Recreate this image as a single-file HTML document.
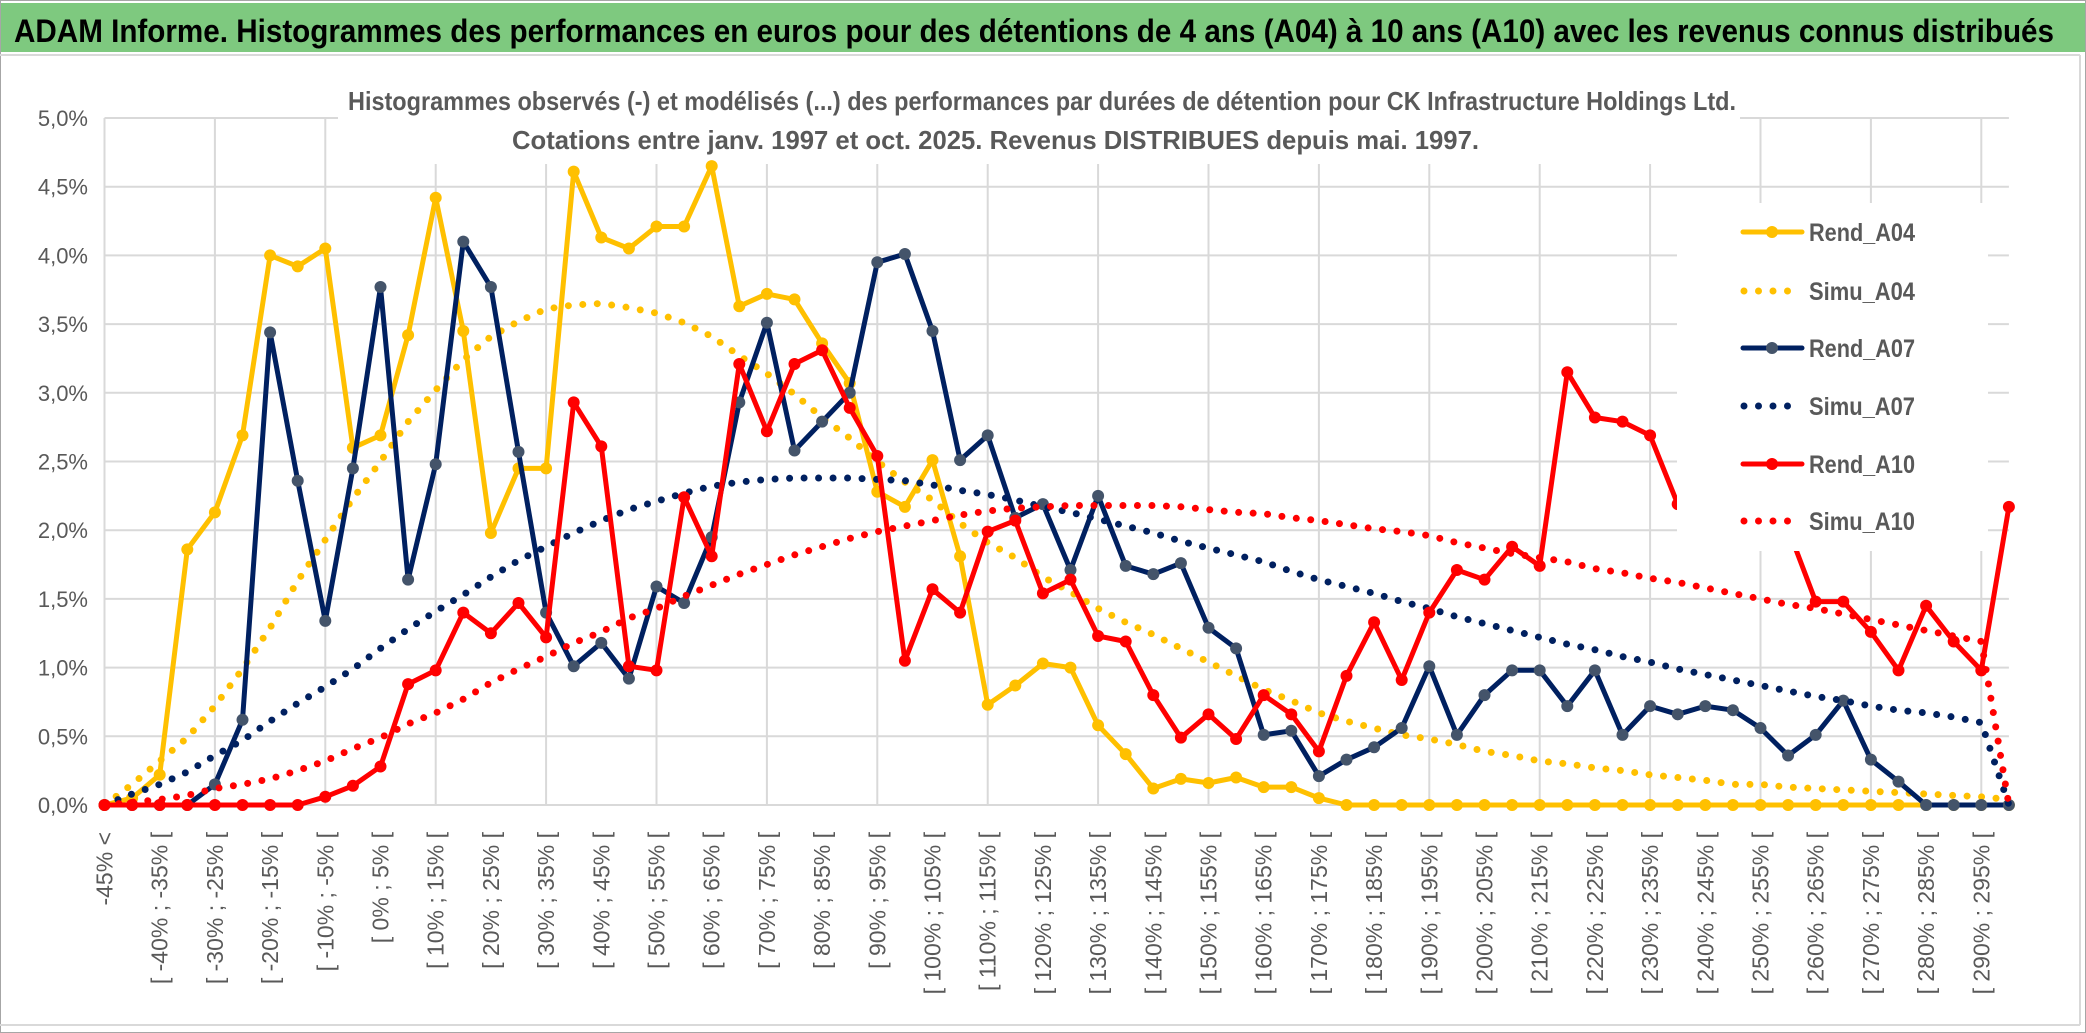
<!DOCTYPE html>
<html><head><meta charset="utf-8"><style>
html,body{margin:0;padding:0;background:#fff;}
svg{display:block;font-family:"Liberation Sans",sans-serif;}
</style></head><body>
<svg id="chart" width="2086" height="1033" viewBox="0 0 2086 1033" xmlns="http://www.w3.org/2000/svg">
<rect x="0" y="0" width="2086" height="1033" fill="#fff"/>
<rect x="0.5" y="0.5" width="2085" height="1032" fill="none" stroke="#a6a6a6" stroke-width="1"/>
<rect x="1" y="3" width="2084" height="49" fill="#7ec97f"/>
<text x="14" y="42" font-size="32" font-weight="bold" fill="#000" textLength="2040" lengthAdjust="spacingAndGlyphs">ADAM Informe. Histogrammes des performances en euros pour des détentions de 4 ans (A04) à 10 ans (A10) avec les revenus connus distribués</text>
<line x1="0" y1="55" x2="2080" y2="55" stroke="#d9d9d9" stroke-width="2"/>
<line x1="2080" y1="55" x2="2080" y2="1025" stroke="#d9d9d9" stroke-width="2"/>
<line x1="0" y1="1025" x2="2080" y2="1025" stroke="#d9d9d9" stroke-width="2"/>
<g id="grid"></g>
<rect x="338" y="80" width="1402" height="84" fill="#fff"/>
<text x="348" y="110" font-size="26" font-weight="bold" fill="#595959" textLength="1388" lengthAdjust="spacingAndGlyphs">Histogrammes observés (-) et modélisés (...) des performances par durées de détention pour CK Infrastructure Holdings Ltd.</text>
<text x="512" y="149" font-size="26" font-weight="bold" fill="#595959" textLength="967" lengthAdjust="spacingAndGlyphs">Cotations entre janv. 1997 et oct. 2025. Revenus DISTRIBUES depuis mai. 1997.</text>
<g id="yaxis"></g>
<g id="xaxis"></g>
<g id="series"></g>
<g id="legend"></g>
</svg>
<script>
const categories = ["-45% <","[ -45% ; -40% [","[ -40% ; -35% [","[ -35% ; -30% [","[ -30% ; -25% [","[ -25% ; -20% [","[ -20% ; -15% [","[ -15% ; -10% [","[ -10% ; -5% [","[ -5% ; 0% [","[ 0% ; 5% [","[ 5% ; 10% [","[ 10% ; 15% [","[ 15% ; 20% [","[ 20% ; 25% [","[ 25% ; 30% [","[ 30% ; 35% [","[ 35% ; 40% [","[ 40% ; 45% [","[ 45% ; 50% [","[ 50% ; 55% [","[ 55% ; 60% [","[ 60% ; 65% [","[ 65% ; 70% [","[ 70% ; 75% [","[ 75% ; 80% [","[ 80% ; 85% [","[ 85% ; 90% [","[ 90% ; 95% [","[ 95% ; 100% [","[ 100% ; 105% [","[ 105% ; 110% [","[ 110% ; 115% [","[ 115% ; 120% [","[ 120% ; 125% [","[ 125% ; 130% [","[ 130% ; 135% [","[ 135% ; 140% [","[ 140% ; 145% [","[ 145% ; 150% [","[ 150% ; 155% [","[ 155% ; 160% [","[ 160% ; 165% [","[ 165% ; 170% [","[ 170% ; 175% [","[ 175% ; 180% [","[ 180% ; 185% [","[ 185% ; 190% [","[ 190% ; 195% [","[ 195% ; 200% [","[ 200% ; 205% [","[ 205% ; 210% [","[ 210% ; 215% [","[ 215% ; 220% [","[ 220% ; 225% [","[ 225% ; 230% [","[ 230% ; 235% [","[ 235% ; 240% [","[ 240% ; 245% [","[ 245% ; 250% [","[ 250% ; 255% [","[ 255% ; 260% [","[ 260% ; 265% [","[ 265% ; 270% [","[ 270% ; 275% [","[ 275% ; 280% [","[ 280% ; 285% [","[ 285% ; 290% [","[ 290% ; 295% [","[ 295% ; 300% ["];
const yTicks = [0,0.5,1,1.5,2,2.5,3,3.5,4,4.5,5];
const yTickLabels = ["0,0%","0,5%","1,0%","1,5%","2,0%","2,5%","3,0%","3,5%","4,0%","4,5%","5,0%"];
const rendA04 = [0,0.05,0.22,1.86,2.13,2.69,4.0,3.92,4.05,2.6,2.69,3.42,4.42,3.45,1.98,2.45,2.45,4.61,4.13,4.05,4.21,4.21,4.65,3.63,3.72,3.68,3.36,3.07,2.28,2.17,2.51,1.81,0.73,0.87,1.03,1.0,0.58,0.37,0.12,0.19,0.16,0.2,0.13,0.13,0.05,0,0,0,0,0,0,0,0,0,0,0,0,0,0,0,0,0,0,0,0,0,0,0,0,0];
const simuA04 = [0,0.15,0.32,0.49,0.72,0.99,1.29,1.63,1.93,2.23,2.5,2.79,3.02,3.24,3.41,3.52,3.61,3.64,3.65,3.62,3.58,3.51,3.41,3.27,3.14,2.99,2.82,2.67,2.5,2.35,2.22,2.05,1.91,1.8,1.66,1.55,1.43,1.33,1.24,1.14,1.04,0.94,0.84,0.76,0.67,0.61,0.56,0.51,0.48,0.44,0.39,0.36,0.32,0.3,0.27,0.25,0.22,0.2,0.18,0.15,0.15,0.13,0.12,0.11,0.1,0.09,0.08,0.07,0.06,0.04];
const rendA07 = [0,0,0,0,0.15,0.62,3.44,2.36,1.34,2.45,3.77,1.64,2.48,4.1,3.77,2.57,1.4,1.01,1.18,0.92,1.59,1.47,1.95,2.93,3.51,2.58,2.79,3.0,3.95,4.01,3.45,2.51,2.69,2.09,2.19,1.71,2.25,1.74,1.68,1.76,1.29,1.14,0.51,0.54,0.21,0.33,0.42,0.56,1.01,0.51,0.8,0.98,0.98,0.72,0.98,0.51,0.72,0.66,0.72,0.69,0.56,0.36,0.51,0.76,0.33,0.17,0,0,0,0];
const simuA07 = [0,0.08,0.15,0.24,0.36,0.47,0.61,0.74,0.86,0.99,1.14,1.28,1.41,1.53,1.66,1.78,1.88,1.98,2.07,2.15,2.21,2.27,2.32,2.35,2.37,2.38,2.38,2.38,2.37,2.36,2.33,2.29,2.26,2.22,2.17,2.13,2.08,2.03,1.98,1.92,1.87,1.82,1.77,1.70,1.64,1.59,1.54,1.48,1.43,1.37,1.32,1.27,1.22,1.17,1.13,1.08,1.04,0.99,0.95,0.91,0.87,0.83,0.79,0.76,0.72,0.69,0.67,0.64,0.6,0];
const rendA10 = [0,0,0,0,0,0,0,0,0.06,0.14,0.28,0.88,0.98,1.4,1.25,1.47,1.22,2.93,2.61,1.01,0.98,2.24,1.81,3.21,2.72,3.21,3.31,2.89,2.54,1.05,1.57,1.40,1.99,2.07,1.54,1.64,1.23,1.19,0.8,0.49,0.66,0.48,0.8,0.66,0.39,0.94,1.33,0.91,1.4,1.71,1.64,1.88,1.74,3.15,2.82,2.79,2.69,2.19,2.1,1.95,2.05,2.01,1.48,1.48,1.26,0.98,1.45,1.19,0.98,2.17];
const simuA10 = [0,0.02,0.04,0.07,0.12,0.15,0.19,0.25,0.32,0.41,0.49,0.59,0.67,0.77,0.89,0.99,1.08,1.18,1.26,1.36,1.43,1.52,1.6,1.68,1.75,1.82,1.88,1.94,1.99,2.03,2.07,2.11,2.14,2.16,2.17,2.18,2.18,2.18,2.18,2.17,2.15,2.13,2.12,2.09,2.07,2.04,2.01,1.99,1.96,1.91,1.87,1.83,1.8,1.77,1.72,1.69,1.65,1.62,1.58,1.54,1.5,1.46,1.43,1.39,1.35,1.31,1.27,1.23,1.19,0];
const seriesNames = ["Rend_A04","Simu_A04","Rend_A07","Simu_A07","Rend_A10","Simu_A10"];

const NS="http://www.w3.org/2000/svg";
const X0=104.5, XSTEP=27.6, Y0=805, YPX=137.4;
function xs(i){return X0+XSTEP*i;}
function ys(v){return Y0-v*YPX;}
function mk(tag,parent,attrs){const e=document.createElementNS(NS,tag);for(const k in attrs)e.setAttribute(k,attrs[k]);parent.appendChild(e);return e;}
const grid=document.getElementById('grid'), yaxis=document.getElementById('yaxis'), xaxis=document.getElementById('xaxis'), series=document.getElementById('series'), legend=document.getElementById('legend');
const xEnd=xs(categories.length-1);
yTicks.forEach((t,k)=>{
  const l=mk('line',grid,{x1:xs(0),x2:xEnd,y1:ys(t),y2:ys(t),stroke:'#d9d9d9','stroke-width':2});
  
  
  const tx=mk('text',yaxis,{x:88,y:ys(t)+8,'font-size':22,fill:'#595959','text-anchor':'end'});
  tx.textContent=yTickLabels[k];
  
  
});
for(let i=0;i<categories.length;i+=4){
  const l=mk('line',grid,{x1:xs(i),x2:xs(i),y1:ys(5),y2:Y0,stroke:'#d9d9d9','stroke-width':2});
  
  
}
categories.forEach((c,i)=>{
  if(i%2!==0)return;
  const x=xs(i)+8, y=832;
  const tx=mk('text',xaxis,{x:x,y:y,'font-size':23,fill:'#595959','text-anchor':'end',transform:'rotate(-90 '+x+' '+y+')'});
  tx.textContent=c;
  
  
});
const defs=[
 {data:rendA04,color:'#ffc000',marker:'#ffc000',dotted:false},
 {data:simuA04,color:'#ffc000',dotted:true},
 {data:rendA07,color:'#002060',marker:'#44546a',dotted:false},
 {data:simuA07,color:'#002060',dotted:true},
 {data:rendA10,color:'#ff0000',marker:'#ff0000',dotted:false},
 {data:simuA10,color:'#ff0000',dotted:true}
];
defs.forEach((d,s)=>{
  const g=mk('g',series,{});
  
  
  const pts=d.data.map((v,i)=>xs(i).toFixed(1)+','+ys(v).toFixed(1)).join(' ');
  const attrs={points:pts,fill:'none',stroke:d.color,'stroke-width':d.dotted?7:5,'stroke-linejoin':'round','stroke-linecap':'round'};
  if(d.dotted)attrs['stroke-dasharray']='0 14.5';
  const pl=mk('polyline',g,attrs);
  
  
  if(!d.dotted){
    d.data.forEach((v,i)=>{
      const c=mk('circle',g,{cx:xs(i),cy:ys(v),r:6,fill:d.marker});
      
      
    });
  }
});
const lb=mk('rect',legend,{x:1677,y:203,width:311,height:348,fill:'#fff'});


const legY=[232,291,348,406,464,521];
defs.forEach((d,s)=>{
  const g=mk('g',legend,{});
  
  
  const y=legY[s];
  if(d.dotted){
    mk('line',g,{x1:1744,x2:1802,y1:y,y2:y,stroke:d.color,'stroke-width':7,'stroke-linecap':'round','stroke-dasharray':'0 14.5'});
  } else {
    mk('line',g,{x1:1743,x2:1802,y1:y,y2:y,stroke:d.color,'stroke-width':5,'stroke-linecap':'round'});
    mk('circle',g,{cx:1772,cy:y,r:6,fill:d.marker});
  }
  const t=mk('text',g,{x:1809,y:y+9,'font-size':25,'font-weight':'bold',fill:'#595959',textLength:106,lengthAdjust:'spacingAndGlyphs'});
  t.textContent=seriesNames[s];
});
</script>
</body></html>
